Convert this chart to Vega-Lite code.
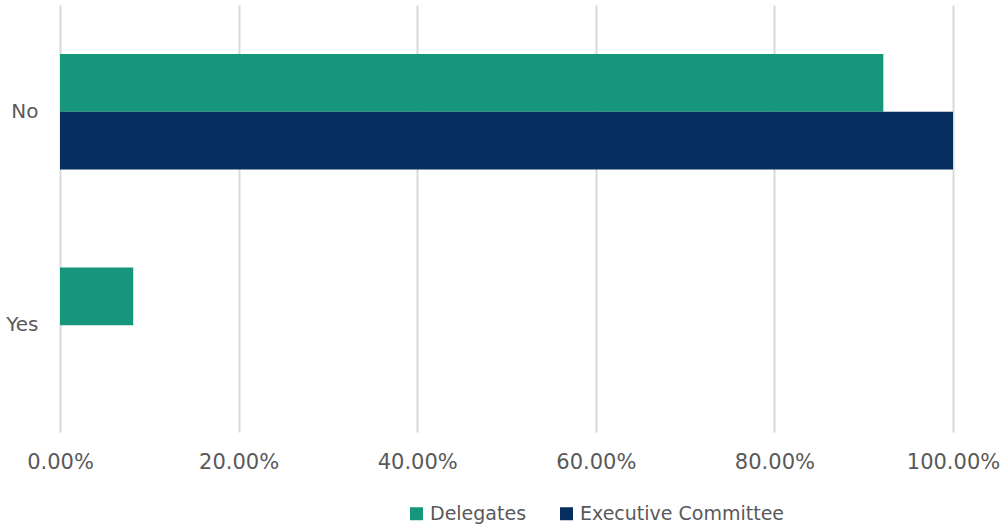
{
  "$schema": "https://vega.github.io/schema/vega-lite/v6.json",
  "width": 893,
  "height": 427,
  "autosize": {"type": "none"},
  "padding": {"left": 60, "top": 5, "right": 50, "bottom": 92},
  "background": "white",
  "config": {
    "view": {"stroke": null},
    "font": "DejaVu Sans"
  },
  "data": {
    "values": [
      {"answer": "No", "group": "Delegates", "value": 0.922},
      {"answer": "No", "group": "Executive Committee", "value": 1.0},
      {"answer": "Yes", "group": "Delegates", "value": 0.082},
      {"answer": "Yes", "group": "Executive Committee", "value": 0.0}
    ]
  },
  "mark": {"type": "bar"},
  "encoding": {
    "y": {
      "field": "answer",
      "type": "nominal",
      "sort": ["No", "Yes"],
      "scale": {"paddingInner": 0.46, "paddingOuter": 0.23},
      "axis": {
        "title": null,
        "domain": false,
        "ticks": false,
        "grid": false,
        "labelPadding": 22,
        "labelFontSize": 20,
        "labelColor": "#595959",
        "labelFont": "DejaVu Sans"
      }
    },
    "yOffset": {
      "field": "group",
      "type": "nominal",
      "sort": ["Delegates", "Executive Committee"],
      "scale": {"paddingInner": 0, "paddingOuter": 0}
    },
    "x": {
      "field": "value",
      "type": "quantitative",
      "scale": {"domain": [0, 1], "nice": false},
      "axis": {
        "title": null,
        "format": ".2%",
        "values": [0, 0.2, 0.4, 0.6, 0.8, 1.0],
        "domain": false,
        "ticks": false,
        "grid": true,
        "gridColor": "#d9d9d9",
        "gridWidth": 2,
        "labelFlush": false,
        "labelOverlap": false,
        "labelPadding": 19,
        "labelFontSize": 21,
        "labelColor": "#595959",
        "labelFont": "DejaVu Sans"
      }
    },
    "color": {
      "field": "group",
      "type": "nominal",
      "sort": ["Delegates", "Executive Committee"],
      "scale": {"domain": ["Delegates", "Executive Committee"], "range": ["#16967b", "#062e5e"]},
      "legend": {
        "title": null,
        "orient": "none",
        "direction": "horizontal",
        "legendX": 347,
        "legendY": 499,
        "symbolType": "square",
        "symbolSize": 169,
        "symbolStrokeWidth": 0,
        "labelFontSize": 19,
        "labelLimit": 400,
        "labelColor": "#595959",
        "labelFont": "DejaVu Sans",
        "labelOffset": 4,
        "columnPadding": 30
      }
    }
  }
}
